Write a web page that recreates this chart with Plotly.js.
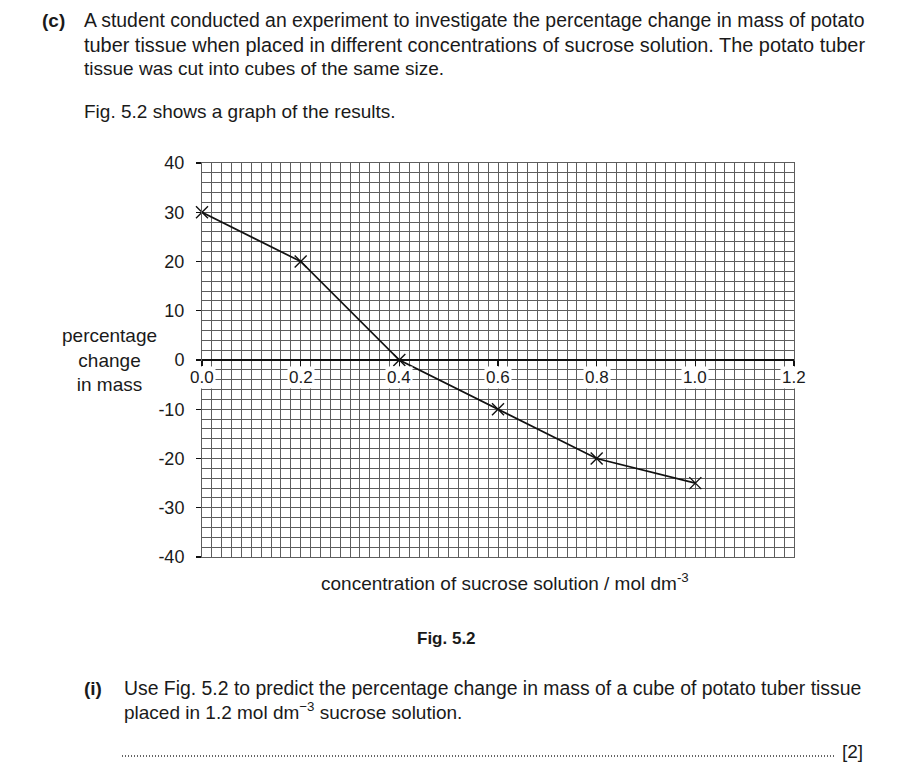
<!DOCTYPE html>
<html>
<head>
<meta charset="utf-8">
<script src="https://cdn.plot.ly/plotly-3.0.1.min.js"></script>
<style>html,body{margin:0;padding:0;background:#fff;}#chart{width:899px;height:784px;}</style>
</head>
<body>
<div id="chart"></div>
<script>
// ---- data ----
const concentration = [0.0, 0.2, 0.4, 0.6, 0.8, 1.0];
const massChange = [30, 20, 0, -10, -20, -25];
const xTickVals = [0.0, 0.2, 0.4, 0.6, 0.8, 1.0, 1.2];
const xTickText = ["0.0", "0.2", "0.4", "0.6", "0.8", "1.0", "1.2"];
const yTickVals = [40, 30, 20, 10, 0, -10, -20, -30, -40];
const yTickText = ["40", "30", "20", "10", "0", "-10", "-20", "-30", "-40"];

// ---- layout helpers (pixel -> paper) ----
const L = 202, R = 794, T = 163, B = 557;
const W = 899, H = 784;
function px(x) { return (x - L) / (R - L); }
function py(y) { return (B - y) / (B - T); }

const FONT = "Liberation Sans, Arial, Helvetica, sans-serif";
const TXT = "#1a1a1a";
const GRID = "#5e5e5e";

function txt(text, x, y, opts) {
  return Object.assign({
    text: text, xref: "paper", yref: "paper", x: px(x), y: py(y),
    xanchor: "left", yanchor: "middle", showarrow: false,
    font: {family: FONT, size: 19, color: TXT}
  }, opts || {});
}

const annotations = [
  txt("<b>(c)</b>", 40, 20),
  txt("A student conducted an experiment to investigate the percentage change in mass of potato", 82, 20, {font: {family: FONT, size: 19.4, color: TXT}}),
  txt("tuber tissue when placed in different concentrations of sucrose solution. The potato tuber", 82, 45, {font: {family: FONT, size: 19.9, color: TXT}}),
  txt("tissue was cut into cubes of the same size.", 82, 68),
  txt("Fig. 5.2 shows a graph of the results.", 82, 112),
  txt("percentage<br>change<br>in mass", 109, 360, {xanchor: "center", align: "center"}),
  txt("concentration of sucrose solution / mol dm<sup>-3</sup>", 505, 582, {xanchor: "center"}),
  txt("<b>Fig. 5.2</b>", 446, 638, {xanchor: "center", font: {family: FONT, size: 17, color: TXT}}),
  txt("<b>(i)</b>", 82, 688),
  txt("Use Fig. 5.2 to predict the percentage change in mass of a cube of potato tuber tissue", 122, 688, {font: {family: FONT, size: 19.4, color: TXT}}),
  txt("placed in 1.2 mol dm<sup>\u22123</sup> sucrose solution.", 122, 711),
  txt("[2]", 840, 751)
];

// x tick labels with white background on the zero line
xTickVals.forEach(function (v, i) {
  annotations.push({
    text: xTickText[i], x: v, y: 0, xref: "x", yref: "y",
    xanchor: "center", yanchor: "top", yshift: -6, showarrow: false,
    bgcolor: "#ffffff", borderpad: 1,
    font: {family: FONT, size: 17, color: TXT}
  });
});

const trace = {
  x: concentration, y: massChange, type: "scatter", mode: "lines+markers",
  line: {color: "#111111", width: 1.7},
  marker: {symbol: "x-thin", size: 12, color: "#111111", line: {color: "#111111", width: 1.4}},
  hoverinfo: "skip", cliponaxis: false
};

const tickTrace = {x: [0, 1.2], y: [0, 0], xaxis: "x2", yaxis: "y", mode: "none", type: "scatter", hoverinfo: "skip", showlegend: false};

const layout = {
  width: W, height: H,
  margin: {l: L, r: W - R, t: T, b: H - B, pad: 0},
  paper_bgcolor: "#ffffff", plot_bgcolor: "#ffffff",
  showlegend: false,
  font: {family: FONT, size: 17, color: TXT},
  xaxis: {
    range: [0, 1.2], tickmode: "linear", tick0: 0, dtick: 0.1,
    showticklabels: false, ticks: "",
    showgrid: true, gridcolor: GRID, gridwidth: 1,
    minor: {tickmode: "linear", tick0: 0, dtick: 0.02, showgrid: true, gridcolor: GRID, gridwidth: 1, ticks: ""},
    zeroline: true, zerolinecolor: "#111111", zerolinewidth: 1.7,
    showline: true, mirror: true, linecolor: GRID, linewidth: 1,
    fixedrange: true
  },
  xaxis2: {
    overlaying: "x", anchor: "free", position: 0.5, side: "bottom",
    range: [0, 1.2], tickmode: "array", tickvals: xTickVals,
    ticks: "outside", ticklen: 5, tickwidth: 1.2, tickcolor: "#111111",
    showticklabels: false, showgrid: false, zeroline: false, showline: false,
    fixedrange: true
  },
  yaxis: {
    range: [-40, 40], tickmode: "array", tickvals: yTickVals, ticktext: yTickText,
    ticks: "outside", ticklen: 5, tickwidth: 1.2, tickcolor: "#111111",
    ticklabelstandoff: 8,
    tickfont: {family: FONT, size: 18, color: TXT},
    showgrid: true, gridcolor: GRID, gridwidth: 1,
    minor: {tickmode: "linear", tick0: 0, dtick: 2, showgrid: true, gridcolor: GRID, gridwidth: 1, ticks: ""},
    zeroline: true, zerolinecolor: "#111111", zerolinewidth: 1.7,
    showline: true, mirror: true, linecolor: GRID, linewidth: 1,
    fixedrange: true
  },
  annotations: annotations,
  shapes: [{
    type: "line", xref: "paper", yref: "paper",
    x0: px(122), x1: px(834), y0: py(756), y1: py(756),
    line: {color: "#333333", width: 1.3, dash: "1px,2px"}
  }]
};

Plotly.newPlot("chart", [trace, tickTrace], layout, {staticPlot: true, displayModeBar: false});
</script>
</body>
</html>
